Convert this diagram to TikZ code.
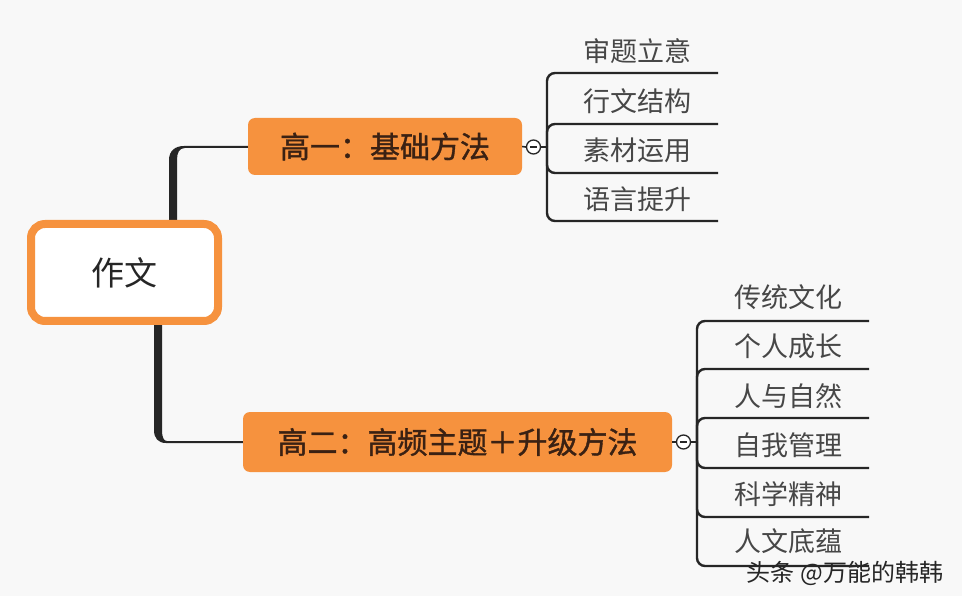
\documentclass[tikz,border=0pt]{standalone}
\usepackage{fontspec}
\newfontfamily\cjk{Noto Sans CJK SC}
\newfontfamily\cjkbold[FakeBold=1.2]{Noto Sans CJK SC}
\definecolor{bg}{HTML}{F8F8F8}
\definecolor{orangeA}{HTML}{F6923E}
\definecolor{brownA}{HTML}{3A2113}
\definecolor{inkA}{HTML}{262626}
\definecolor{leaftext}{HTML}{474747}
\begin{document}
\begin{tikzpicture}[x=1pt,y=-1pt,
  rootbox/.style={draw=orangeA, line width=8pt, fill=white, rounded corners=14pt,
    minimum width=187pt, minimum height=97pt, inner sep=0pt,
    font=\cjk\fontsize{33}{33}\selectfont, text=inkA},
  mainbox/.style={fill=orangeA, rounded corners=7pt, inner sep=0pt,
    font=\cjkbold\fontsize{30}{30}\selectfont, text=brownA},
  leafbox/.style={inner sep=0pt, font=\cjk\fontsize{27}{27}\selectfont, text=leaftext},
  collapsebox/.style={circle, draw=inkA, line width=1.3pt, fill=white, minimum size=14pt, inner sep=0pt},
  leafline/.style={draw=inkA, line width=2.4pt, rounded corners=8pt},
  thinline/.style={draw=inkA, line width=1.6pt},
  trunk/.style={fill=inkA}
]
\useasboundingbox (0,0) rectangle (962,596);
\fill[bg] (0,0) rectangle (962,596);

% trunk
\coordinate (tt1) at (169,224);
\coordinate (tt2) at (177,224);
\coordinate (tb1) at (154,321);
\coordinate (tb2) at (162,321);
\fill[trunk] (tt1) -- (169,160) .. controls (169,151) and (175,146) .. (184,146) -- (250,146) -- (250,148) -- (185,148) .. controls (179,148) and (177,153) .. (177,160) -- (tt2) -- cycle;
\fill[trunk] (tb1) -- (154,430) .. controls (154,438) and (158,443) .. (166,443) -- (245,443) -- (245,441) -- (167,441) .. controls (164,441) and (162,438) .. (162,430) -- (tb2) -- cycle;

% nodes
\node[rootbox] (root) at (124.5,272.5) {作文};
\node[mainbox, minimum width=274pt, minimum height=57pt] (n1) at (385,146.5) {高一：基础方法};
\node[mainbox, minimum width=429pt, minimum height=60pt] (n2) at (457.5,442) {高二：高频主题＋升级方法};

% group 1
\node[collapsebox] (c1) at (533.5,147) {};
\draw[inkA, line width=1.1pt] ([xshift=-3.5pt]c1.center) -- ([xshift=3.5pt]c1.center);
\draw[thinline] (n1.east) -- (c1.west);
\coordinate (b1) at (547,147);
\draw[thinline] (c1.east) -- (b1);
\coordinate (l11) at (718,73);
\coordinate (l12) at (718,124);
\coordinate (l13) at (718,173);
\coordinate (l14) at (718,221);
\draw[leafline] (b1) |- (l11);
\draw[leafline] (b1) |- (l12);
\draw[leafline] (b1) |- (l13);
\draw[leafline] (b1) |- (l14);
\node[leafbox] (a1) at (637,51) {审题立意};
\node[leafbox] (a2) at (637,101) {行文结构};
\node[leafbox] (a3) at (637,150) {素材运用};
\node[leafbox] (a4) at (637,199) {语言提升};

% group 2
\node[collapsebox] (c2) at (683.5,442) {};
\draw[inkA, line width=1.1pt] ([xshift=-3.5pt]c2.center) -- ([xshift=3.5pt]c2.center);
\draw[thinline] (n2.east) -- (c2.west);
\coordinate (b2) at (697,442);
\draw[thinline] (c2.east) -- (b2);
\coordinate (l21) at (869,321);
\coordinate (l22) at (869,369);
\coordinate (l23) at (869,418);
\coordinate (l24) at (869,468);
\coordinate (l25) at (869,517);
\coordinate (l26) at (869,566);
\draw[leafline] (b2) |- (l21);
\draw[leafline] (b2) |- (l22);
\draw[leafline] (b2) |- (l23);
\draw[leafline] (b2) |- (l24);
\draw[leafline] (b2) |- (l25);
\draw[leafline] (b2) |- (l26);
\node[leafbox] (d1) at (788,297) {传统文化};
\node[leafbox] (d2) at (788,346) {个人成长};
\node[leafbox] (d3) at (788,396) {人与自然};
\node[leafbox] (d4) at (788,445) {自我管理};
\node[leafbox] (d5) at (788,494) {科学精神};
\node[leafbox] (d6) at (788,541) {人文底蕴};

% watermark
\node[inner sep=0pt, font=\cjk\fontsize{24}{24}\selectfont, text=inkA] (wm) at (845,573) {头条 @万能的韩韩};
\end{tikzpicture}
\end{document}
